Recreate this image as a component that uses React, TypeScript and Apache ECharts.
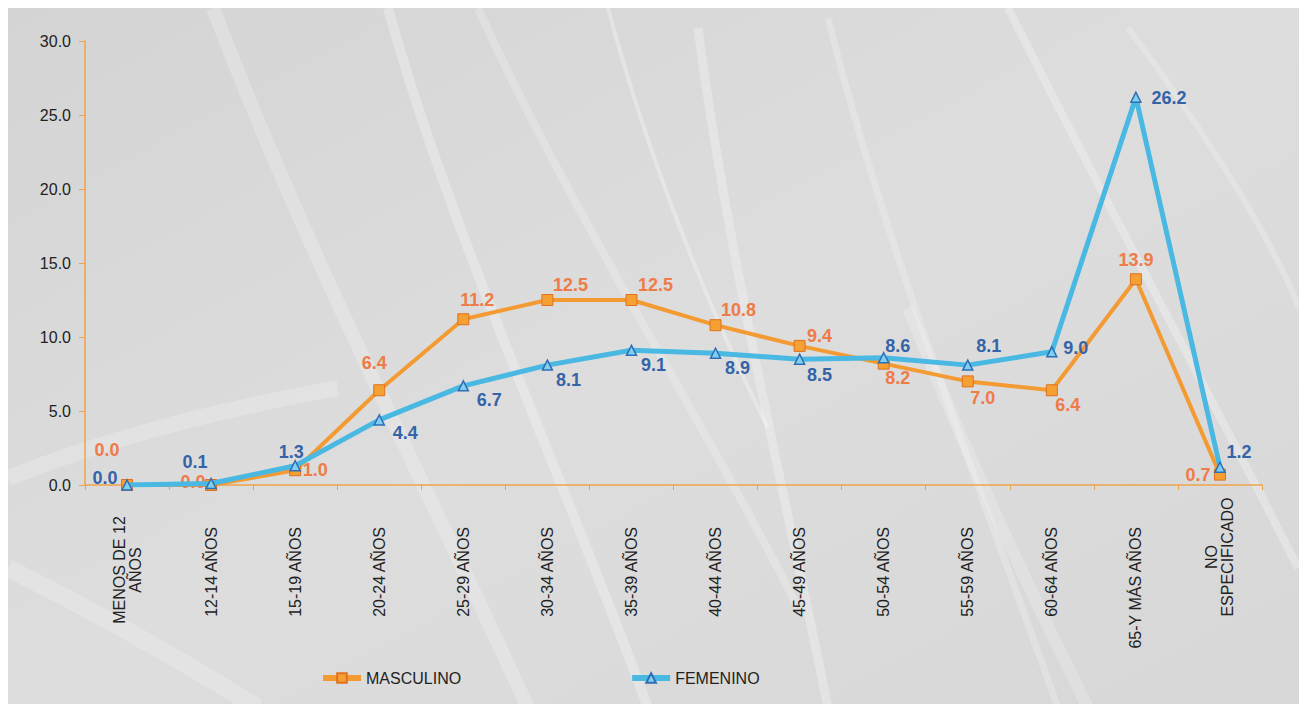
import React, { useEffect, useRef } from 'react';
import * as echarts from 'echarts';

const categories = [
  'MENOS DE 12\nAÑOS',
  '12-14 AÑOS',
  '15-19 AÑOS',
  '20-24 AÑOS',
  '25-29 AÑOS',
  '30-34 AÑOS',
  '35-39 AÑOS',
  '40-44 AÑOS',
  '45-49 AÑOS',
  '50-54 AÑOS',
  '55-59 AÑOS',
  '60-64 AÑOS',
  '65-Y MÁS AÑOS',
  'NO\nESPECIFICADO',
];
const masculino = [0.0, 0.0, 1.0, 6.4, 11.2, 12.5, 12.5, 10.8, 9.4, 8.2, 7.0, 6.4, 13.9, 0.7];
const femenino = [0.0, 0.1, 1.3, 4.4, 6.7, 8.1, 9.1, 8.9, 8.5, 8.6, 8.1, 9.0, 26.2, 1.2];
const yMin = 0;
const yMax = 30;
const yStep = 5;

// label placement (style, not data)
const mascOffsets = [[-20, -35], [-18, -3], [20, 0], [-5, -27], [14, -19], [23, -15], [24, -15], [23, -15], [20, -10], [14, 14], [15, 17], [16, 15], [0, -19], [-22, 0]];
const femOffsets = [[-22, -7], [-16, -22], [-4, -14], [26, 13], [26, 14], [21, 15], [22, 15], [22, 15], [20, 16], [14, -12], [21, -19], [24, -4], [33, 1], [19, -15]];

const FONT = "'Liberation Sans', Arial, sans-serif";

const streaks = [
  { x1: 205, y1: 0, cx1: 300, cy1: 250, cx2: 420, cy2: 480, x2: 520, y2: 700, w: 14, o: 0.22 },
  { x1: 380, y1: 0, cx1: 440, cy1: 220, cx2: 560, cy2: 480, x2: 640, y2: 700, w: 10, o: 0.28 },
  { x1: 470, y1: 0, cx1: 560, cy1: 200, cx2: 700, cy2: 420, x2: 790, y2: 600, w: 8, o: 0.22 },
  { x1: 690, y1: 20, cx1: 720, cy1: 250, cx2: 780, cy2: 500, x2: 820, y2: 700, w: 9, o: 0.28 },
  { x1: 820, y1: 10, cx1: 880, cy1: 250, cx2: 980, cy2: 500, x2: 1050, y2: 700, w: 7, o: 0.22 },
  { x1: 1000, y1: 0, cx1: 1100, cy1: 200, cx2: 1220, cy2: 420, x2: 1290, y2: 560, w: 8, o: 0.28 },
  { x1: 1120, y1: 20, cx1: 1180, cy1: 100, cx2: 1260, cy2: 220, x2: 1291, y2: 300, w: 6, o: 0.22 },
  { x1: 0, y1: 470, cx1: 100, cy1: 430, cx2: 220, cy2: 400, x2: 330, y2: 380, w: 16, o: 0.2 },
  { x1: 0, y1: 560, cx1: 80, cy1: 600, cx2: 170, cy2: 650, x2: 250, y2: 700, w: 18, o: 0.2 },
  { x1: 600, y1: 0, cx1: 640, cy1: 150, cx2: 700, cy2: 300, x2: 760, y2: 420, w: 4, o: 0.3 },
  { x1: 900, y1: 300, cx1: 960, cy1: 450, cx2: 1020, cy2: 580, x2: 1080, y2: 700, w: 12, o: 0.2 },
];

const catLabelFormatter = (v: string) => {
  if (v === 'MENOS DE 12\nAÑOS') return '{m|MENOS DE 12}\n{m|AÑOS}';
  if (v === 'NO\nESPECIFICADO') return '{e|NO}\n{e|ESPECIFICADO}';
  return '{n|' + v + '}';
};

export default function App() {
  const ref = useRef<HTMLDivElement>(null);
  useEffect(() => {
    document.body.style.overflow = 'hidden';
    const chart = echarts.init(ref.current!, undefined, { renderer: 'svg' });
    const mkData = (vals: number[], offs: number[][]) =>
      vals.map((v, i) => ({ value: v, label: { offset: offs[i] } }));
    chart.setOption({
      animation: false,
      backgroundColor: {
        type: 'linear', x: 0, y: 0, x2: 1, y2: 1,
        colorStops: [
          { offset: 0, color: '#d3d4d3' },
          { offset: 0.5, color: '#dddddd' },
          { offset: 1, color: '#d7d7d7' },
        ],
      },
      graphic: streaks.map((s) => ({
        type: 'bezierCurve',
        silent: true,
        z: -10,
        shape: { x1: s.x1, y1: s.y1, cpx1: s.cx1, cpy1: s.cy1, cpx2: s.cx2, cpy2: s.cy2, x2: s.x2, y2: s.y2 },
        style: { stroke: '#ffffff', lineWidth: s.w, opacity: s.o, fill: null },
      })),
      grid: { left: 77, top: 33, width: 1177, height: 444, containLabel: false },
      legend: {
        left: 307,
        top: 657,
        itemWidth: 38,
        itemHeight: 12,
        itemGap: 168,
        lineStyle: { width: 6 },
        textStyle: { fontFamily: FONT, fontSize: 16, color: '#222' },
        data: ['MASCULINO', 'FEMENINO'],
      },
      xAxis: {
        type: 'category',
        data: categories,
        boundaryGap: true,
        axisLine: { lineStyle: { color: '#F0A24A', width: 1.5 } },
        axisTick: { show: true, interval: 0, length: 5, lineStyle: { color: '#F0A24A' } },
        axisLabel: {
          interval: 0,
          rotate: 90,
          margin: 12,
          fontFamily: FONT,
          fontSize: 16,
          color: '#222',
          formatter: catLabelFormatter,
          rich: {
            n: { fontFamily: FONT, fontSize: 16, color: '#222', padding: [0, 30, 0, 0] },
            m: { fontFamily: FONT, fontSize: 16, color: '#222', width: 110, align: 'center', padding: [0, 18, 0, 0] },
            e: { fontFamily: FONT, fontSize: 16, color: '#222', width: 120, align: 'center' },
          },
        },
        splitLine: { show: false },
      },
      yAxis: {
        type: 'value',
        min: yMin,
        max: yMax,
        interval: yStep,
        axisLine: { show: true, lineStyle: { color: '#F0A24A', width: 1.5 } },
        axisTick: { show: true, length: 6, lineStyle: { color: '#F0A24A' } },
        axisLabel: {
          margin: 14,
          fontFamily: FONT,
          fontSize: 16,
          color: '#222',
          formatter: (v: number) => v.toFixed(1),
        },
        splitLine: { show: false },
      },
      series: [
        {
          name: 'MASCULINO',
          type: 'line',
          data: mkData(masculino, mascOffsets),
          symbol: 'rect',
          symbolSize: 11,
          z: 3,
          lineStyle: { color: '#F39B32', width: 4 },
          itemStyle: { color: '#F5A033', borderColor: '#E0711F', borderWidth: 1 },
          label: {
            show: true,
            position: 'inside',
            align: 'center',
            verticalAlign: 'middle',
            fontFamily: FONT,
            fontSize: 18,
            fontWeight: 'bold',
            color: '#EE7B48',
            formatter: (p: any) => Number(p.value).toFixed(1),
          },
        },
        {
          name: 'FEMENINO',
          type: 'line',
          data: mkData(femenino, femOffsets),
          symbol: 'triangle',
          symbolSize: 10,
          z: 4,
          lineStyle: { color: '#49B8E2', width: 5 },
          itemStyle: { color: '#7FD0F0', borderColor: '#2F6DB5', borderWidth: 1.5 },
          label: {
            show: true,
            position: 'inside',
            align: 'center',
            verticalAlign: 'middle',
            fontFamily: FONT,
            fontSize: 18,
            fontWeight: 'bold',
            color: '#3563A8',
            formatter: (p: any) => Number(p.value).toFixed(1),
          },
        },
      ],
    });
    return () => chart.dispose();
  }, []);
  return <div ref={ref} style={{ width: 1291, height: 696 }} />;
}
